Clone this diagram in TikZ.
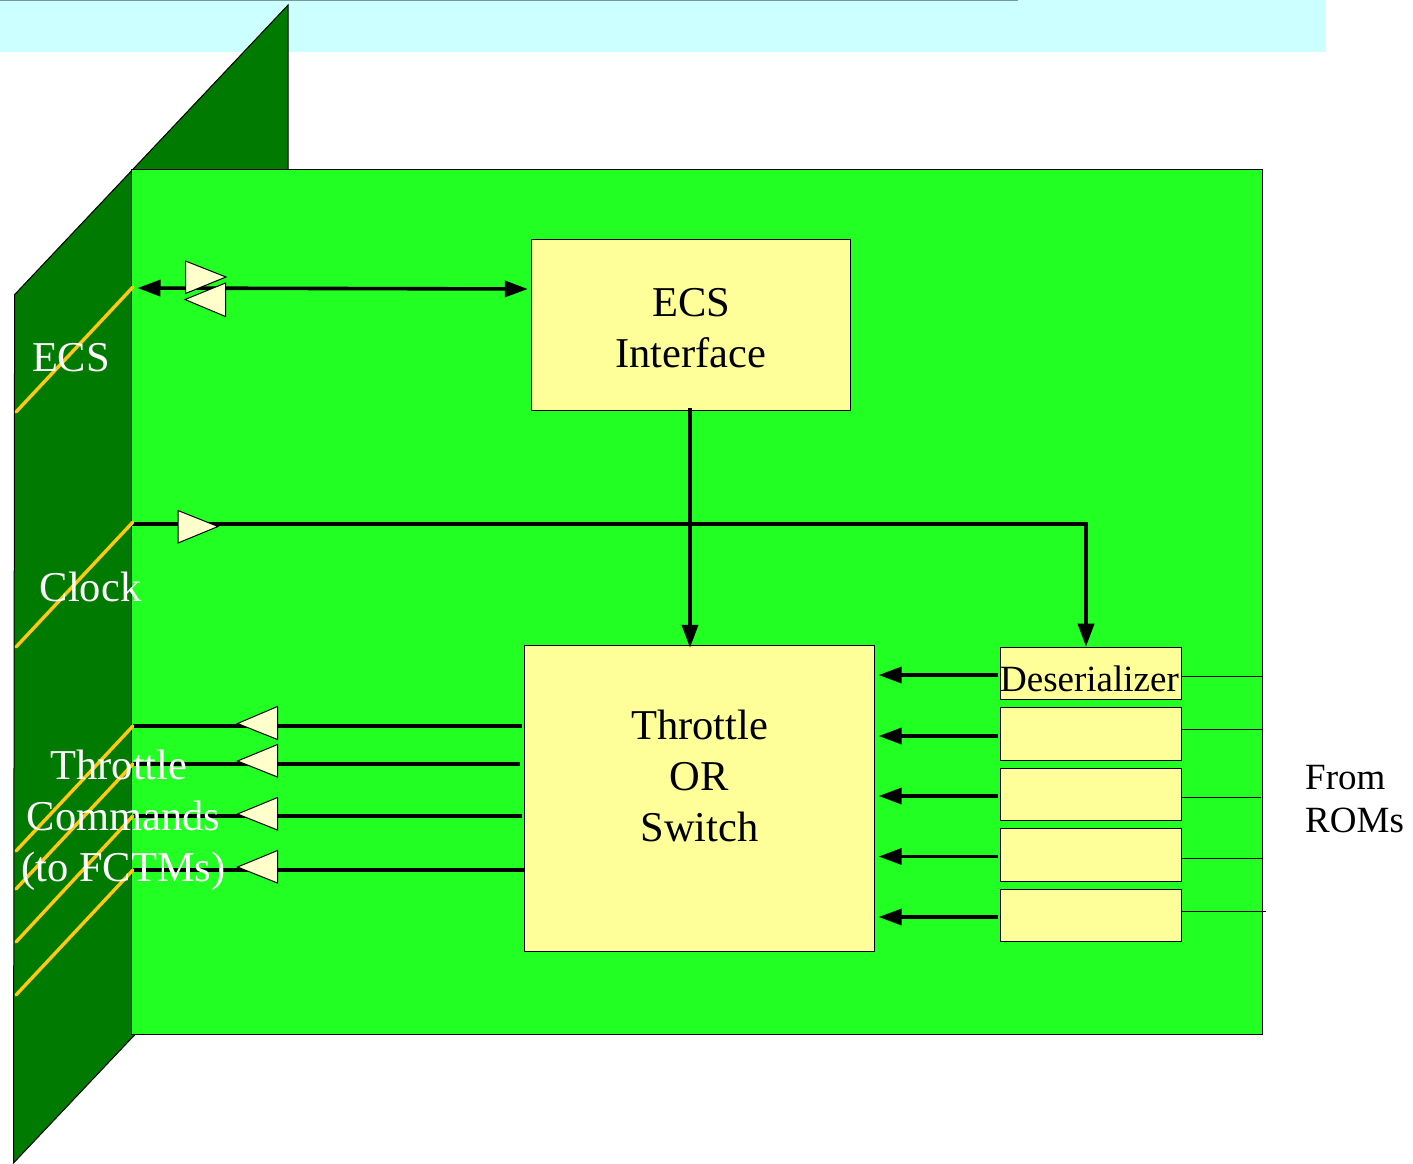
\documentclass[tikz,border=0pt]{standalone}
\usepackage{fontspec}
\setmainfont{Liberation Serif}
\usetikzlibrary{arrows.meta}
\definecolor{bandcol}{HTML}{CCFFFF}
\definecolor{darkboard}{HTML}{007A00}
\definecolor{board}{HTML}{22FF22}
\definecolor{boxcol}{HTML}{FFFF99}
\definecolor{tricol}{HTML}{FFFFCC}
\definecolor{wirecol}{HTML}{FFC814}
\tikzset{
  block/.style={draw=black,line width=0.9pt,fill=boxcol,inner sep=0pt,align=center,anchor=north west},
  big/.style={font=\fontsize{42.5}{51}\selectfont},
  small/.style={font=\fontsize{37}{43}\selectfont},
  sig/.style={draw=black,line width=3.6pt},
  sigarrow/.style={sig,-{Triangle[length=23pt,width=16pt]}},
  thin wire/.style={draw=black,line width=0.8pt},
  pin/.style={draw=wirecol,line width=3.4pt,line cap=round},
  buffer/.style={draw=black,line width=1pt,fill=tricol,line join=miter},
  lbl/.style={big,text=white,inner sep=0pt,align=center}
}
\begin{document}
\begin{tikzpicture}[x=1pt,y=-1pt]
\useasboundingbox (0,0) rectangle (1413,1163);
\fill[white] (0,0) rectangle (1413,1163);
% band
\fill[bandcol] (0,0) rectangle (1326,52);
\draw[draw=black!40!bandcol,line width=1pt] (0,0.5) -- (1018,0.5);
% boards
\draw[fill=darkboard,draw=black,line width=1pt] (14.6,294.6) -- (288.1,5) -- (288.1,172) -- (134,172) -- (135,1034.5) -- (13.5,1163) -- cycle;
\node[draw=black,line width=1pt,fill=board,inner sep=0pt,minimum width=1130.8pt,minimum height=865pt,anchor=north west] (main) at (131.4,168.8) {};
% blocks
\node[block,big,minimum width=319.5pt,minimum height=171.5pt] (ecs) at (530.8,238.8) {};
\node[big,align=center,inner sep=0pt] (ecstext) at (691,328.5) {ECS\\Interface};
\node[block,big,minimum width=350.5pt,minimum height=306.5pt] (sw) at (523.8,644.8) {};
\node[big,align=center,inner sep=0pt] (swtext) at (699.5,776) {Throttle\\OR\\Switch};
\node[block,small,minimum width=180.6pt,minimum height=52.2pt] (d1) at (1000,646.7) {};
\node[small,inner sep=0pt] (d1text) at (1089.5,679) {Deserializer};
\node[block,minimum width=180.6pt,minimum height=52.7pt] (d2) at (1000,707.2) {};
\node[block,minimum width=180.6pt,minimum height=52.7pt] (d3) at (1000,767.7) {};
\node[block,minimum width=180.6pt,minimum height=52.7pt] (d4) at (1000,828.2) {};
\node[block,minimum width=180.6pt,minimum height=52.2pt] (d5) at (1000,888.7) {};
% free ends
\coordinate (ecsport) at (132,288);
\coordinate (clkport) at (132,524);
\coordinate (clkcorner) at (1086,524);
\coordinate (t1) at (133,726);
\coordinate (t2) at (133,764);
\coordinate (t3) at (133,816);
\coordinate (t4) at (133,870);
% signals
\draw[sigarrow,{Triangle[length=23pt,width=16pt]}-{Triangle[length=23pt,width=16pt]},shorten <=5.5pt,shorten >=3pt] (ecsport) -- (ecs.west |- 0,289);
\draw[sigarrow,shorten <=-3pt,shorten >=-3pt] (ecs.south -| 690,0) -- (sw.north -| 690,0);
\draw[sigarrow] (clkport) -- (clkcorner) -- (d1.north -| clkcorner);
\draw[sig,shorten <=2pt] (sw.west |- 0,726) -- (t1);
\draw[sig,shorten <=4pt] (sw.west |- 0,764) -- (t2);
\draw[sig,shorten <=2pt] (sw.west |- 0,816) -- (t3);
\draw[sig] (sw.west |- 0,870) -- (t4);
\draw[sigarrow,shorten <=2pt,shorten >=3.5pt] (d1.west |- 0,675) -- (sw.east |- 0,675);
\draw[sigarrow,shorten <=2pt,shorten >=3.5pt] (d2.west |- 0,736) -- (sw.east |- 0,736);
\draw[sigarrow,shorten <=2pt,shorten >=3.5pt] (d3.west |- 0,796) -- (sw.east |- 0,796);
\draw[sigarrow,shorten <=2pt,shorten >=3.5pt] (d4.west |- 0,856.5) -- (sw.east |- 0,856.5);
\draw[sigarrow,shorten <=2pt,shorten >=3.5pt] (d5.west |- 0,917) -- (sw.east |- 0,917);
% ROM inputs
\draw[thin wire] (d1.east |- 0,676) -- (main.east |- 0,676);
\draw[thin wire] (d2.east |- 0,729.5) -- (main.east |- 0,729.5);
\draw[thin wire,shorten >=2pt] (d3.east |- 0,797) -- (main.east |- 0,797);
\draw[thin wire] (d4.east |- 0,858) -- (main.east |- 0,858);
\draw[thin wire,shorten >=-3pt] (d5.east |- 0,911) -- (main.east |- 0,911);
% pins
\draw[pin] (ecsport) ++(1,-1) -- (16,412);
\draw[pin] (clkport) ++(1,-2) -- (16,647);
\draw[pin] (t1) -- (16,851);
\draw[pin] (t2) -- (16,889);
\draw[pin] (t3) -- (16,942);
\draw[pin] (t4) -- (16,995);
% buffers
\draw[buffer] (185.5,261) -- (226,277) -- (185.5,293.5) -- cycle;
\draw[buffer] (225.5,283) -- (185,299.5) -- (225.5,316.5) -- cycle;
\draw[buffer] (178,510.5) -- (218,526.5) -- (178,543) -- cycle;
\draw[buffer] (237.5,723.5) -- (277.5,706.5) -- (277.5,739.5) -- cycle;
\draw[buffer] (237.5,761) -- (277.5,744.5) -- (277.5,777) -- cycle;
\draw[buffer] (237.5,814) -- (277.5,797.5) -- (277.5,830) -- cycle;
\draw[buffer] (237.5,867) -- (277.5,850.5) -- (277.5,883) -- cycle;
% labels
\node[lbl] (lecs) at (71,358) {ECS};
\node[lbl] (lclk) at (90.5,586.5) {Clock};
\node[lbl] (lth) at (119,765) {Throttle};
\node[lbl] (lcm) at (123.5,816) {Commands};
\node[lbl,anchor=base] (lto) at (123.5,881.5) {(to FCTMs)};
\node[small,align=left,inner sep=0pt,anchor=west] (rom) at (1305,799.5) {From\\ROMs};
\end{tikzpicture}
\end{document}
